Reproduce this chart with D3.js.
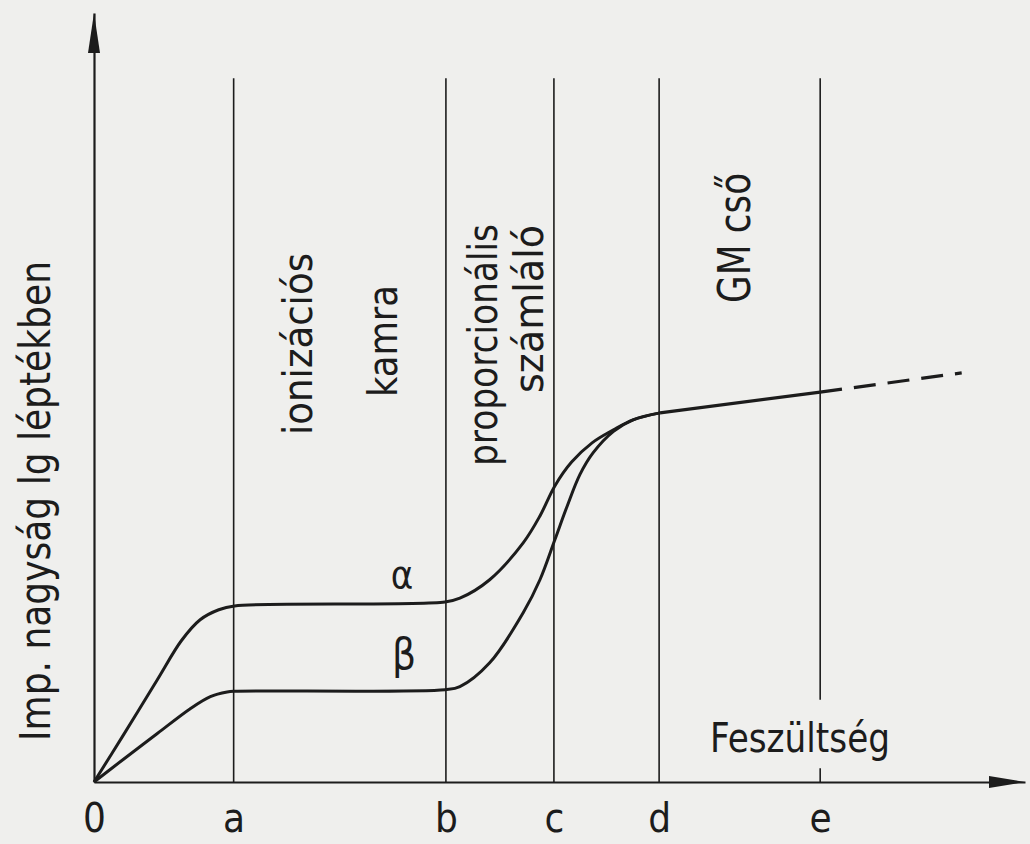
<!DOCTYPE html>
<html lang="hu">
<head>
<meta charset="utf-8">
<title>Ionizációs detektorok tartományai</title>
<script src="https://cdn.jsdelivr.net/npm/d3@7"></script>
<style>
  body { margin: 0; background: #efefed; }
  svg { background-color: #efefed; display: block; }
  .lbl { font-family: "DejaVu Sans Condensed", "DejaVu Sans", sans-serif; fill: #1c1c1c; }
  .axis text { font-family: "DejaVu Sans Condensed", "DejaVu Sans", sans-serif; fill: #1c1c1c; }
  .axis path { stroke: #1c1c1c; stroke-width: 2.2; }
</style>
</head>
<body>
<div id="chart"></div>
<script>
const w = 1030, h = 844;

// boundaries of the regions (voltage, arbitrary units)
const boundaryLabels = ["0", "a", "b", "c", "d", "e"];
const boundaryX = [0, 15.0, 37.8, 49.4, 60.7, 78.0];

// alpha curve (pulse size, arbitrary log units), up to d
const alphaX = [0, 3.1, 6.8, 9.4, 11.4, 13.4, 15.1, 37.7, 39.3, 42.5, 46.1, 47.9, 49.5, 51.3, 53.5, 55.8, 57.9, 60.8];
const alphaY = [0, 6.0, 13.3, 18.4, 21.1, 22.4, 22.9, 23.4, 23.9, 26.3, 31.1, 34.6, 38.5, 41.6, 44.1, 45.8, 47.1, 48.0];
// beta curve, up to d
const betaX = [0, 3.1, 6.8, 10.3, 12.5, 14.3, 15.1, 37.7, 39.3, 42.5, 46.1, 47.9, 49.5, 50.8, 52.2, 53.6, 55.8, 57.9, 60.8];
const betaY = [0, 2.9, 6.3, 9.5, 11.1, 11.7, 11.8, 12.0, 12.4, 15.5, 22.0, 26.3, 31.5, 35.8, 40.0, 42.8, 45.6, 47.1, 48.0];
// common GM segment d..e, and dashed extension beyond e
const gmX = [60.8, 78.0];
const gmY = [48.0, 50.7];
const extX = [78.0, 93.2];
const extY = [50.7, 53.2];

const svg = d3.select("#chart").append("svg")
  .attr("width", w).attr("height", h);

const x = d3.scaleLinear().domain([0, 100]).range([94, 1025]);
const y = d3.scaleLinear().domain([0, 100]).range([782, 13]);

const ink = "#1c1c1c";

// region boundary lines
const lineTop = 91.5;
svg.selectAll(".vline")
  .data(boundaryX.slice(1, 5))
  .enter().append("line")
  .attr("x1", d => x(d)).attr("x2", d => x(d))
  .attr("y1", y(lineTop)).attr("y2", y(0))
  .attr("stroke", ink).attr("stroke-width", 1.6);
// e line stops above the axis title, plus small tick
svg.append("line")
  .attr("x1", x(boundaryX[5])).attr("x2", x(boundaryX[5]))
  .attr("y1", y(lineTop)).attr("y2", y(10.7))
  .attr("stroke", ink).attr("stroke-width", 1.6);
svg.append("line")
  .attr("x1", x(boundaryX[5])).attr("x2", x(boundaryX[5]))
  .attr("y1", y(1.8)).attr("y2", y(0))
  .attr("stroke", ink).attr("stroke-width", 1.6);

// axes
const xAxis = d3.axisBottom(x)
  .tickValues(boundaryX)
  .tickFormat((d, i) => boundaryLabels[i])
  .tickSize(0).tickSizeOuter(0).tickPadding(22);
svg.append("g").attr("class", "axis")
  .attr("transform", `translate(0,${y(0)})`)
  .call(xAxis)
  .call(g => g.selectAll("text").attr("font-size", 40));

const yAxis = d3.axisLeft(y).tickValues([]).tickSizeOuter(0);
svg.append("g").attr("class", "axis")
  .attr("transform", `translate(${x(0)},0)`)
  .call(yAxis);

// arrow heads
svg.append("path")
  .attr("d", `M${x(0)},${y(100)} L${x(0) - 6},${y(100) + 40} L${x(0) + 6},${y(100) + 40} Z`)
  .attr("fill", ink);
svg.append("path")
  .attr("d", `M${x(100)},${y(0)} L${x(100) - 36},${y(0) - 6} L${x(100) - 36},${y(0) + 6} Z`)
  .attr("fill", ink);

// curves
const smooth = d3.line().x(d => x(d[0])).y(d => y(d[1])).curve(d3.curveCatmullRom.alpha(0.5));
const straight = d3.line().x(d => x(d[0])).y(d => y(d[1]));

svg.append("path")
  .datum(d3.zip(alphaX, alphaY))
  .attr("d", smooth).attr("fill", "none")
  .attr("stroke", ink).attr("stroke-width", 3);
svg.append("path")
  .datum(d3.zip(betaX, betaY))
  .attr("d", smooth).attr("fill", "none")
  .attr("stroke", ink).attr("stroke-width", 3);
svg.append("path")
  .datum(d3.zip(gmX, gmY))
  .attr("d", straight).attr("fill", "none")
  .attr("stroke", ink).attr("stroke-width", 3.2);
svg.append("path")
  .datum(d3.zip(extX, extY))
  .attr("d", straight).attr("fill", "none")
  .attr("stroke", ink).attr("stroke-width", 3.2)
  .attr("stroke-dasharray", "22,12");

// vertical region labels
const vLabels = [
  { t: "ionizációs", bx: 312, cy: 344, len: 182, fs: 40 },
  { t: "kamra", bx: 397, cy: 341, len: 112, fs: 40 },
  { t: "proporcionális", bx: 497, cy: 345, len: 242, fs: 40 },
  { t: "számláló", bx: 543, cy: 309, len: 168, fs: 40 },
  { t: "GM cső", bx: 750, cy: 238, len: 130, fs: 44 },
  { t: "Imp. nagyság lg léptékben", bx: 50, cy: 501, len: 480, fs: 42 }
];
svg.selectAll(".vlab")
  .data(vLabels)
  .enter().append("text")
  .attr("class", "lbl")
  .attr("transform", d => `translate(${d.bx},${d.cy}) rotate(-90)`)
  .attr("text-anchor", "middle")
  .attr("font-size", d => d.fs)
  .attr("textLength", d => d.len)
  .attr("lengthAdjust", "spacingAndGlyphs")
  .text(d => d.t);

// axis title and curve names
svg.append("text").attr("class", "lbl")
  .attr("x", 710).attr("y", 752)
  .attr("font-size", 40)
  .attr("textLength", 180).attr("lengthAdjust", "spacingAndGlyphs")
  .text("Feszültség");
svg.append("text").attr("class", "lbl")
  .attr("x", 402).attr("y", 588)
  .attr("text-anchor", "middle").attr("font-size", 38)
  .text("α");
svg.append("text").attr("class", "lbl")
  .attr("x", 404).attr("y", 669)
  .attr("text-anchor", "middle").attr("font-size", 42)
  .text("β");
</script>
</body>
</html>
